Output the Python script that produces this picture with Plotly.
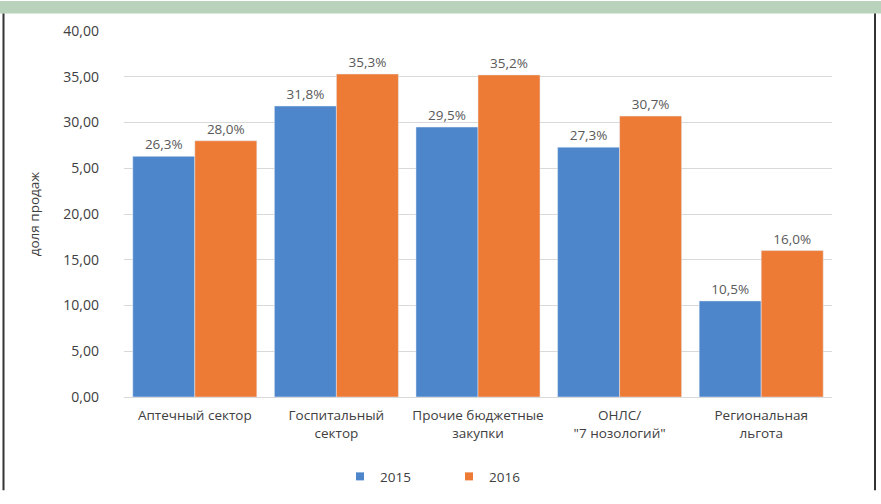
import plotly.graph_objects as go

categories = ["Аптечный сектор", "Госпитальный<br>сектор", "Прочие бюджетные<br>закупки",
              "ОНЛС/<br>\"7 нозологий\"", "Региональная<br>льгота"]
values_2015 = [26.3, 31.8, 29.5, 27.3, 10.5]
values_2016 = [28.0, 35.3, 35.2, 30.7, 16.0]
y_tickvals = [0, 5, 10, 15, 20, 25, 30, 35, 40]
y_ticktext = ["0,00", "5,00", "10,00", "15,00", "20,00", "5,00", "30,00", "35,00", "40,00"]
series_names = ["2015", "2016"]
series_colors = ["#4E86CB", "#ED7A35"]

W, H = 881, 504
ML, MR, MT, MB = 124, 49, 31, 96
PW, PH = W - ML - MR, H - MT - MB


def px_x(p):
    return (p - ML) / PW


def px_y(p):
    return (H - MB - p) / PH


def fmt(v):
    return f"{v:.1f}".replace(".", ",") + "%"


FONT = "Open Sans"
TXT = "#404040"

fig = go.Figure()
for name, vals, col in zip(series_names, [values_2015, values_2016], series_colors):
    fig.add_bar(x=categories, y=vals, name=name, marker_color=col, showlegend=False,
                text=[fmt(v) for v in vals], textposition="outside",
                textfont=dict(size=13.5, color="#595959", family=FONT), cliponaxis=False)
for name, col in zip(series_names, series_colors):
    fig.add_scatter(x=[None], y=[None], mode="markers", name=name,
                    marker=dict(symbol="square", size=8, color=col))

fig.update_layout(
    width=W, height=H,
    margin=dict(l=ML, r=MR, t=MT, b=MB),
    paper_bgcolor="white", plot_bgcolor="white",
    barmode="group", bargap=0.124, bargroupgap=0,
    font=dict(family=FONT, size=13, color=TXT),
    showlegend=True,
    legend=dict(orientation="h", x=px_x(449), xanchor="center", y=px_y(490), yanchor="middle",
                font=dict(size=13.5, color=TXT), itemwidth=30, traceorder="normal",
                entrywidth=64, entrywidthmode="pixels"),
    xaxis=dict(showgrid=False, showline=True, linecolor="#d9d9d9", linewidth=1,
               tickfont=dict(size=13.5, color=TXT), ticks="", ticklabelstandoff=6),
    yaxis=dict(range=[0, 40], tickvals=y_tickvals, ticktext=y_ticktext,
               showgrid=True, gridcolor="#d9d9d9", gridwidth=1, zeroline=False,
               showline=False, ticks="", ticklabelstandoff=24,
               tickfont=dict(size=14, color=TXT),
               title=dict(text="доля продаж", font=dict(size=13.5, color=TXT), standoff=20)),
    shapes=[
        dict(type="rect", xref="paper", yref="paper", x0=px_x(0), x1=px_x(W),
             y0=px_y(13), y1=px_y(0), fillcolor="#b8d2bb", line_width=0, layer="above"),
        dict(type="line", xref="paper", yref="paper", x0=px_x(3.5), x1=px_x(3.5),
             y0=px_y(13), y1=px_y(H), line=dict(color="#333333", width=2)),
        dict(type="line", xref="paper", yref="paper", x0=px_x(875), x1=px_x(875),
             y0=px_y(13), y1=px_y(H), line=dict(color="#333333", width=2)),
    ],
)

fig.write_html("out.html", config={"displayModeBar": False},
               post_script="document.body.style.margin='0';document.body.style.padding='0';")
